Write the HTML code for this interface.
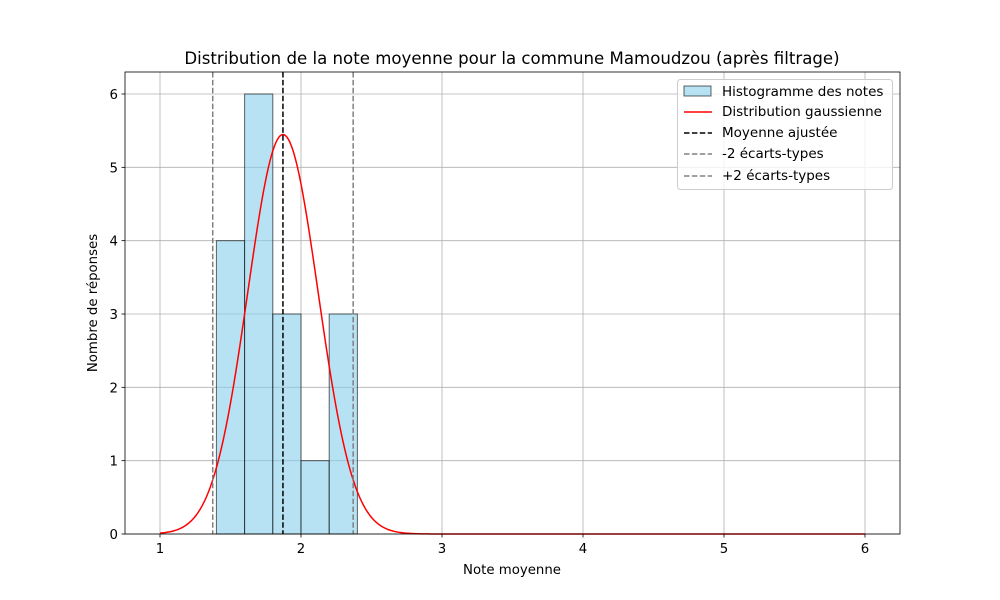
<!DOCTYPE html>
<html><head><meta charset="utf-8"><style>
body{margin:0;background:#fff;}
svg{display:block;font-family:"DejaVu Sans","Liberation Sans",sans-serif;}
</style></head><body>
<svg id="chart" width="1000" height="600" viewBox="0 0 1000 600"></svg>
<script>
const binEdges=[1.4,1.6,1.8,2.0,2.2,2.4];
const counts=[4,6,3,1,3];
const meanVal=1.872;
const sdVal=0.249;
const nObs=17;
const xTicks=[1,2,3,4,5,6];
const yTicks=[0,1,2,3,4,5,6];
const NS='http://www.w3.org/2000/svg';
const svg=document.getElementById('chart');
const L=125,R=900,T=72,B=534;
const sx=v=>160+(v-1)*141;
const sy=v=>534-v*73.333;
function mk(tag,attrs,parent){const e=document.createElementNS(NS,tag);for(const k in attrs)e.setAttribute(k,attrs[k]);(parent||svg).appendChild(e);return e;}
xTicks.forEach(t=>{const l=mk('line',{x1:sx(t),x2:sx(t),y1:T,y2:B,stroke:'#b0b0b0','stroke-width':0.8});

});
yTicks.forEach(t=>{const l=mk('line',{x1:L,x2:R,y1:sy(t),y2:sy(t),stroke:'#b0b0b0','stroke-width':0.8});

});
counts.forEach((c,i)=>{const x0=sx(binEdges[i]),x1=sx(binEdges[i+1]);
const r=mk('rect',{x:x0,y:sy(c),width:x1-x0,height:sy(0)-sy(c),fill:'rgba(135,206,235,0.6)',stroke:'rgba(0,0,0,0.6)','stroke-width':1});

});
const bw=binEdges[1]-binEdges[0];
let d='';for(let i=0;i<=500;i++){const x=1+5*i/500;const y=nObs*bw*Math.exp(-0.5*((x-meanVal)/sdVal)**2)/(sdVal*Math.sqrt(2*Math.PI));d+=(i?'L':'M')+sx(x).toFixed(2)+','+sy(y).toFixed(2);}
const g=mk('path',{d:d,fill:'none',stroke:'red','stroke-width':1.5});


const m=mk('line',{x1:sx(meanVal),x2:sx(meanVal),y1:T,y2:B,stroke:'#000','stroke-width':1.5,'stroke-dasharray':'5.5,2.4'});


[-2,2].forEach(k=>{const l=mk('line',{x1:sx(meanVal+k*sdVal),x2:sx(meanVal+k*sdVal),y1:T,y2:B,stroke:'gray','stroke-width':1.5,'stroke-dasharray':'5.5,2.4'});

});
const f=mk('rect',{x:L,y:T,width:R-L,height:B-T,fill:'none',stroke:'#000','stroke-width':0.8});


xTicks.forEach(t=>{mk('line',{x1:sx(t),x2:sx(t),y1:B,y2:B+3.5,stroke:'#000','stroke-width':0.8});
const tx=mk('text',{x:sx(t),y:B+19,'text-anchor':'middle','font-size':13.3});tx.textContent=t;

});
yTicks.forEach(t=>{mk('line',{x1:L-3.5,x2:L,y1:sy(t),y2:sy(t),stroke:'#000','stroke-width':0.8});
const tx=mk('text',{x:L-7,y:sy(t)+5,'text-anchor':'end','font-size':13.3});tx.textContent=t;

});
</script>
<svg style="position:absolute;left:0;top:0" width="1000" height="600" font-family="DejaVu Sans,Liberation Sans,sans-serif">
<text x="512" y="64" text-anchor="middle" font-size="16.6">Distribution de la note moyenne pour la commune Mamoudzou (après filtrage)</text>
<text x="512" y="574" text-anchor="middle" font-size="13.3">Note moyenne</text>
<text transform="translate(97,303) rotate(-90)" text-anchor="middle" font-size="13.3">Nombre de réponses</text>
<g font-size="13.5">
<rect x="677.5" y="79.5" width="215" height="110" rx="3" fill="rgba(255,255,255,0.8)" stroke="#ccc"/>
<rect x="684" y="86" width="27" height="10" fill="rgba(135,206,235,0.6)" stroke="rgba(0,0,0,0.6)"/>
<text x="722" y="96">Histogramme des notes</text>
<line x1="684" x2="712" y1="112" y2="112" stroke="red" stroke-width="1.5"/>
<text x="722" y="116">Distribution gaussienne</text>
<line x1="684" x2="712" y1="133" y2="133" stroke="#000" stroke-width="1.5" stroke-dasharray="5.5,2.4"/>
<text x="722" y="137">Moyenne ajustée</text>
<line x1="684" x2="712" y1="154" y2="154" stroke="gray" stroke-width="1.5" stroke-dasharray="5.5,2.4"/>
<text x="722" y="158">-2 écarts-types</text>
<line x1="684" x2="712" y1="176" y2="176" stroke="gray" stroke-width="1.5" stroke-dasharray="5.5,2.4"/>
<text x="722" y="180">+2 écarts-types</text>
</g>
</svg>
</body></html>
